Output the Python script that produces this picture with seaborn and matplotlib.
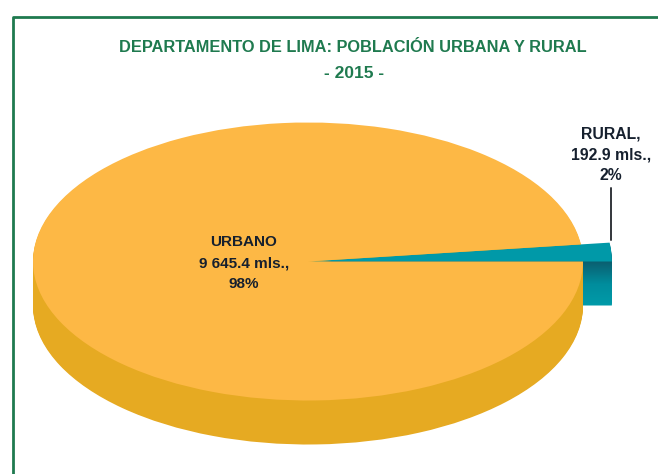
import seaborn as sns
import matplotlib.pyplot as plt
from matplotlib.lines import Line2D

sns.set_theme(style="white")
plt.rcParams['font.family'] = ['Liberation Sans', 'DejaVu Sans']

categories = ['RURAL', 'URBANO']
poblacion = [192.9, 9645.4]
etiquetas = ['RURAL,\n192.9 mls.,\n2%', 'URBANO\n9 645.4 mls.,\n98%']
titulo = 'DEPARTAMENTO DE LIMA: POBLACIÓN URBANA Y RURAL'
anio = '- 2015 -'

W, H = 658, 474
verde = '#1f7a4f'
cx, cy, rx, ry = 308, 261.5, 275, 139
depth = 44 / ry
n = 45

fig = plt.figure(figsize=(W / 100, H / 100), dpi=100, facecolor='white')
ax = fig.add_axes([0, 0, 1, 1])

# slab is a stack of pies, bottom one first
side = sns.blend_palette(['#009aa8', '#008c9c', '#0a5f70'], n)
for i in range(n):
    d = depth * (1 - i / n)
    w, _ = ax.pie(poblacion, colors=[side[i], '#e6aa22'], startangle=0,
                  center=(0, -d), wedgeprops={'linewidth': 0})
    w[0].set_radius(1.105)

w, _ = ax.pie(poblacion, colors=['#0099a8', '#fdb845'], startangle=0,
              center=(0, 0), wedgeprops={'linewidth': 0})
w[0].set_radius(1.105)

ax.set_aspect('auto')
ax.set_xlim(-cx / rx, (W - cx) / rx)
ax.set_ylim((cy - H) / ry, cy / ry)
ax.axis('off')


def fx(x):
    return x / W


def fy(y):
    return 1 - y / H


# frame, open to the right and bottom
fig.add_artist(Line2D([fx(13), fx(13), fx(658)], [fy(474), fy(16.5), fy(16.5)],
                      color=verde, lw=2))
fig.add_artist(Line2D([fx(611), fx(611)], [fy(188), fy(240)], color='#33363b', lw=1.4))

fig.text(fx(353), fy(47), titulo, color=verde, fontsize=11.8, fontweight='bold',
         ha='center', va='center')
fig.text(fx(354), fy(74), anio, color=verde, fontsize=12.5, fontweight='bold',
         ha='center', va='center')
fig.text(fx(611), fy(155), etiquetas[0], color='#16202e', fontsize=11.3, fontweight='bold',
         ha='center', va='center', linespacing=1.5)
fig.text(fx(244), fy(263), etiquetas[1], color='#16202e', fontsize=11, fontweight='bold',
         ha='center', va='center', linespacing=1.6)

fig.savefig('out.png', dpi=100)
